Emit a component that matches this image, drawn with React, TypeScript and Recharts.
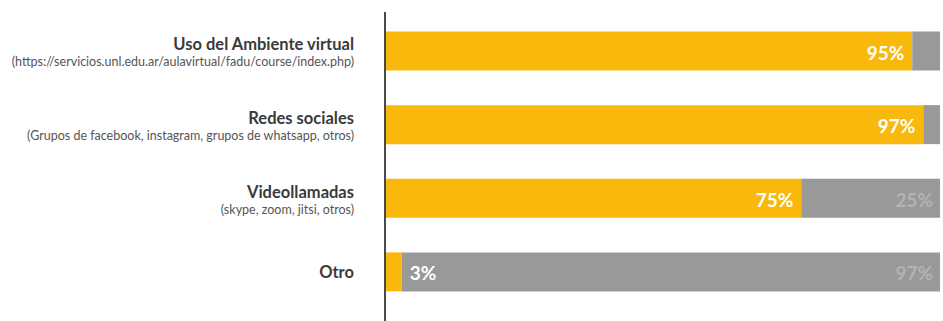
import React from 'react';
import { BarChart, Bar, XAxis, YAxis, LabelList } from 'recharts';

const categories = ['Uso del Ambiente virtual', 'Redes sociales', 'Videollamadas', 'Otro'];
const subtitles = [
  '(https://servicios.unl.edu.ar/aulavirtual/fadu/course/index.php)',
  '(Grupos de facebook, instagram, grupos de whatsapp, otros)',
  '(skype, zoom, jitsi, otros)',
  '',
];
const siValues = [95, 97, 75, 3];
const noValues = [5, 3, 25, 97];

const data = categories.map((name, i) => ({
  name,
  sub: subtitles[i],
  si: siValues[i],
  no: noValues[i],
}));

const YELLOW = '#F8B80C';
const GRAY = '#999999';
const FONT = 'Lato, "Open Sans", sans-serif';

const CategoryTick = (props: any) => {
  const { x, y, payload } = props;
  const idx = payload.index;
  const sub = subtitles[idx];
  const tx = x - 23;
  if (!sub) {
    return (
      <text x={tx} y={y + 6} textAnchor="end" fontFamily={FONT} fontWeight={700} fontSize={16.5} fill="#3a3a3a">
        {payload.value}
      </text>
    );
  }
  return (
    <g>
      <text x={tx} y={y - 1} textAnchor="end" fontFamily={FONT} fontWeight={700} fontSize={16.5} fill="#3a3a3a">
        {payload.value}
      </text>
      <text x={tx} y={y + 15} textAnchor="end" fontFamily={FONT} fontSize={12.5} fill="#555555">
        {sub}
      </text>
    </g>
  );
};

const SiLabel = (props: any) => {
  const { x, y, width, height, value } = props;
  const cy = y + height / 2 + 1;
  if (value >= 50) {
    return (
      <text x={x + width - 8} y={cy} textAnchor="end" dominantBaseline="central" fontFamily={FONT} fontWeight={700} fontSize={19} fill="#ffffff">
        {value}%
      </text>
    );
  }
  return (
    <text x={x + width + 8} y={cy} textAnchor="start" dominantBaseline="central" fontFamily={FONT} fontWeight={700} fontSize={19} fill="#ffffff">
      {value}%
    </text>
  );
};

const NoLabel = (props: any) => {
  const { x, y, width, height, value } = props;
  if (value < 10) return null;
  const cy = y + height / 2 + 1;
  return (
    <text x={x + width - 7} y={cy} textAnchor="end" dominantBaseline="central" fontFamily={FONT} fontWeight={700} fontSize={19} fill="#b3b3b3">
      {value}%
    </text>
  );
};

export default function App() {
  return (
    <div style={{ position: 'absolute', left: 0, top: 0, width: 943, height: 321, overflow: 'hidden', background: '#fff' }}>
      <BarChart
        width={943}
        height={321}
        data={data}
        layout="vertical"
        margin={{ top: 12, right: 3, bottom: 0, left: 0 }}
        barSize={39}
      >
        <XAxis type="number" domain={[0, 100]} hide />
        <YAxis
          type="category"
          dataKey="name"
          width={385}
          axisLine={{ stroke: '#4a4a4a', strokeWidth: 2 }}
          tickLine={false}
          tick={<CategoryTick />}
          padding={{ top: 2.5, bottom: 12 }}
          interval={0}
        />
        <Bar dataKey="si" stackId="a" fill={YELLOW} isAnimationActive={false}>
          <LabelList dataKey="si" content={<SiLabel />} />
        </Bar>
        <Bar dataKey="no" stackId="a" fill={GRAY} isAnimationActive={false}>
          <LabelList dataKey="no" content={<NoLabel />} />
        </Bar>
      </BarChart>
    </div>
  );
}
